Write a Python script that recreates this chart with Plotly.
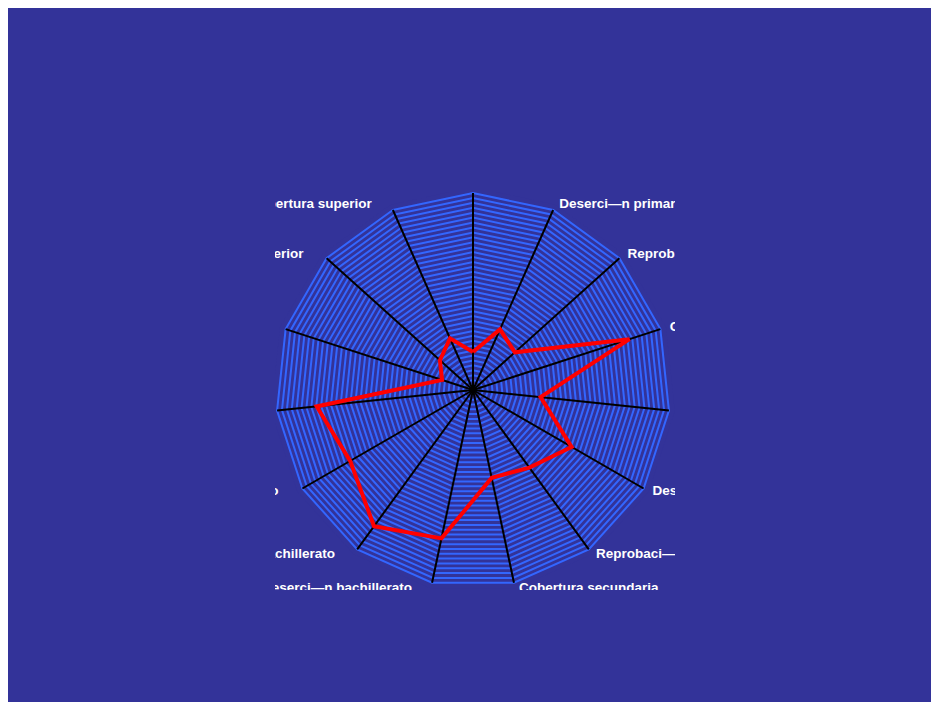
import plotly.graph_objects as go

categories = [
    "Cobertura primaria",
    "Deserci—n primaria",
    "Reprobaci—n primaria",
    "Cobertura b‡sica",
    "Extraedad b‡sica",
    "Deserci—n secundaria",
    "Reprobaci—n secundaria",
    "Cobertura secundaria",
    "Deserci—n bachillerato",
    "Reprobaci—n bachillerato",
    "Cobertura tŽcnico",
    "Deserci—n tŽcnico",
    "Cobertura universitaria",
    "Deserci—n superior",
    "Cobertura superior",
]
values = [19.3, 33.7, 28.6, 83.5, 34.5, 57.8, 48.7, 45.6, 77.0, 85.5, 72.0, 79.8, 16.5, 22.6, 28.7]
grid_values = [2.5 * k for k in range(1, 41)]
r_max = 100
r_label = 103
r_axis = 103

BG = "#333399"
GRID = "#3366FF"
W, H = 923, 700
OFF = 8  # page offset of the figure (body margin)

n = len(categories)
NB = "\u00a0"
label_text, label_pos = [], []
for i, c in enumerate(categories):
    ang = i * 360 / n
    if ang == 0:
        label_text.append(c + "<br> ")
        label_pos.append("top center")
    elif ang < 180:
        label_text.append(NB + c)
        label_pos.append("middle right")
    else:
        label_text.append(c + NB * 5)
        label_pos.append("middle left")

# spokes from the centre to the outer edge for every category
spoke_r, spoke_t = [], []
for c in categories:
    spoke_r += [0, r_max, None]
    spoke_t += [c, c, None]

fig = go.Figure()
fig.add_trace(go.Scatterpolar(
    r=spoke_r, theta=spoke_t, mode="lines", connectgaps=False,
    line=dict(color="black", width=2), showlegend=False, hoverinfo="skip",
))
fig.add_trace(go.Scatterpolar(
    r=values + values[:1], theta=categories + categories[:1], mode="lines",
    line=dict(color="#FF0000", width=4), showlegend=False, hoverinfo="skip",
))
fig.add_trace(go.Scatterpolar(
    r=[r_label] * n, theta=categories, mode="text", text=label_text,
    textposition=label_pos, cliponaxis=False,
    textfont=dict(family="Liberation Sans, Arial", size=13.5, color="white", weight="bold"),
    showlegend=False, hoverinfo="skip",
))

cx, cy = 473 - OFF, 390 - OFF
rad = 197 * r_axis / r_max
fig.update_layout(
    width=W, height=H,
    margin=dict(l=0, r=0, t=0, b=0),
    paper_bgcolor=BG,
    plot_bgcolor=BG,
    showlegend=False,
    polar=dict(
        domain=dict(x=[(cx - rad) / W, (cx + rad) / W],
                    y=[(H - cy - rad) / H, (H - cy + rad) / H]),
        bgcolor=BG,
        gridshape="linear",
        radialaxis=dict(range=[0, r_axis], tickvals=grid_values, showticklabels=False,
                        ticks="", showline=False, gridcolor=GRID, gridwidth=1.5),
        angularaxis=dict(type="category", categoryorder="array", categoryarray=categories,
                         direction="clockwise", rotation=90, ticks="",
                         showticklabels=False, showgrid=False, showline=False),
    ),
)

# clipping window of the original drawing (page px -> paper)
cl, cr, ct, cb = 275 - OFF, 675 - OFF, 192 - OFF, 590 - OFF
rects = [
    (0, 0, cl / W, 1),
    (cr / W, 0, 1, 1),
    (0, 0, 1, (H - cb) / H),
    (0, (H - ct) / H, 1, 1),
]
for x0, y0, x1, y1 in rects:
    fig.add_shape(type="rect", xref="paper", yref="paper", x0=x0, y0=y0, x1=x1, y1=y1,
                  fillcolor=BG, line=dict(width=0), layer="above")

fig.write_html(
    "out.html",
    post_script="document.documentElement.style.overflow='hidden';"
                "document.body.style.margin='8px 0 0 8px';",
)
